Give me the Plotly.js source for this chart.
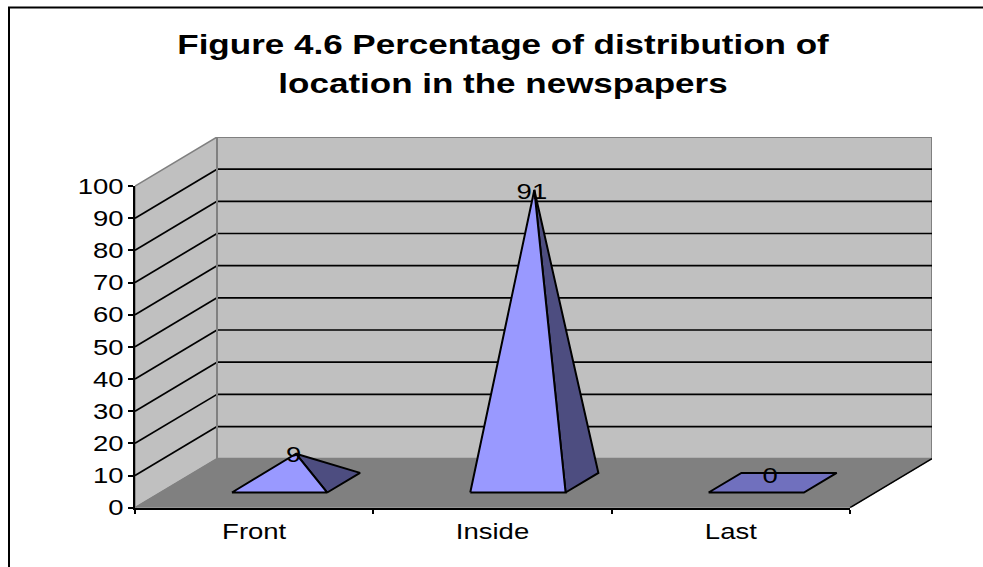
<!DOCTYPE html>
<html>
<head>
<meta charset="utf-8">
<script src="https://cdn.plot.ly/plotly-3.0.1.min.js"></script>
<style>html,body{margin:0;padding:0;background:#fff}#chart{width:983px;height:567px}</style>
</head>
<body>
<div id="chart"></div>
<script>
// ---- data ----
const categories = ["Front", "Inside", "Last"];
const values = [9, 91, 0];
const yTicks = [0, 10, 20, 30, 40, 50, 60, 70, 80, 90, 100];
const titleLines = ["Figure 4.6 Percentage of distribution of", "location in the newspapers"];

// ---- page geometry (px) ----
const W = 983, H = 567;
const frontLeft = 135, frontRight = 850, frontBase = 507.7, frontTop = 186;
const depthX = 82, depthY = 49;
const catPx = (frontRight - frontLeft) / categories.length;
const valPx = (frontBase - frontTop) / 100;
const depthCat = depthX / catPx, depthVal = depthY / valPx;
const FONT = '"Liberation Sans", Arial, sans-serif';
const TEXT_STRETCH = 1.25; // the reference's text is horizontally stretched

// oblique projection of (category position, depth 0..1, value) on the drawing axes
const px = (c, d) => c + d * depthCat;
const py = (v, d) => v + d * depthVal;
const poly = (pts, fill, lineColor, lineWidth) => ({
  type: 'scatter', mode: 'lines', xaxis: 'x', yaxis: 'y',
  x: pts.map(p => px(p[0], p[1])), y: pts.map(p => py(p[2], p[1])),
  fill: fill ? 'toself' : 'none', fillcolor: fill || undefined,
  line: {color: lineColor, width: lineWidth, simplify: false},
  hoverinfo: 'skip', showlegend: false
});

const L = -0.5, R = categories.length - 0.5;
const traces = [];
// walls and floor
traces.push(poly([[L,1,0],[R,1,0],[R,1,100],[L,1,100],[L,1,0]], '#C0C0C0', '#808080', 2));
traces.push(poly([[L,0,0],[L,1,0],[L,1,100],[L,0,100],[L,0,0]], '#C0C0C0', '#808080', 1.5));
traces.push(poly([[L,0,0],[R,0,0],[R,1,0],[L,1,0],[L,0,0]], '#808080', '#808080', 1));
traces.push(poly([[R,0,0],[R,1,0]], null, '#000000', 1.5));
// gridlines
yTicks.filter(v => v > 0 && v < 100).forEach(v => {
  traces.push(poly([[L,0,v],[L,1,v]], null, '#000000', 1.7));
  traces.push(poly([[L,1,v],[R,1,v]], null, '#000000', 1.7));
});
// repaint back-left edge over grid ends
traces.push(poly([[L,1,0],[L,1,100]], null, '#808080', 2));

// pyramids
const halfW = 0.2, d0 = 0.31, d1 = 0.71, dm = (d0 + d1) / 2;
categories.forEach((cat, i) => {
  const v = values[i];
  const a = i - halfW, b = i + halfW;
  if (v > 0) {
    traces.push(poly([[b,d0,0],[b,d1,0],[i,dm,v],[b,d0,0]], '#4D4D80', '#000000', 2));
    traces.push(poly([[a,d0,0],[b,d0,0],[i,dm,v],[a,d0,0]], '#9999FF', '#000000', 2));
  } else {
    traces.push(poly([[a,d0,0],[b,d0,0],[b,d1,0],[a,d1,0],[a,d0,0]], '#7070BE', '#000000', 2));
  }
});
// value labels
traces.push({
  type: 'scatter', mode: 'text', xaxis: 'x', yaxis: 'y',
  x: categories.map((c, i) => px(i, dm) - 0.01),
  y: values.map(v => py(v, dm) + (v === 0 ? 1.6 : -1)),
  text: values.map(String), textposition: 'middle center',
  textfont: {family: FONT, size: 22, color: '#000'},
  hoverinfo: 'skip', showlegend: false
});
// visible axes
traces.push({
  type: 'scatter', mode: 'none', xaxis: 'x2', yaxis: 'y2',
  x: categories.map((c, i) => i), y: values,
  hoverinfo: 'skip', showlegend: false
});

const layout = {
  width: W, height: H,
  margin: {l: 0, r: 0, t: 0, b: 0},
  paper_bgcolor: '#fff', plot_bgcolor: 'rgba(0,0,0,0)',
  showlegend: false,
  title: {
    text: titleLines.map(t => '<span style="font-size:28px">' + t + '</span>').join('<br>'),
    font: {family: FONT, size: 30, color: '#000', weight: 700},
    x: 503 / W, xanchor: 'center', y: 1 - 54 / H, yanchor: 'middle'
  },
  // drawing axes: span the whole projected box
  xaxis: {
    domain: [frontLeft / W, (frontRight + depthX) / W],
    range: [L, R + depthCat], visible: false, fixedrange: true
  },
  yaxis: {
    domain: [1 - frontBase / H, 1 - (frontTop - depthY) / H],
    range: [0, 100 + depthVal], visible: false, fixedrange: true
  },
  // visible axes: front edge of the box
  xaxis2: {
    anchor: 'y2', domain: [frontLeft / W, frontRight / W], range: [L, R],
    tickmode: 'array', tickvals: categories.map((c, i) => i), ticktext: categories,
    ticks: '', showgrid: false, zeroline: false,
    showline: true, linecolor: '#000', linewidth: 2,
    tickfont: {family: FONT, size: 22, color: '#000'},
    minor: {tickmode: 'array', tickvals: [-0.5, 0.5, 1.5, 2.5], ticks: 'outside', ticklen: 4, tickwidth: 1.5, tickcolor: '#000', showgrid: false},
    ticklabelstandoff: 3, fixedrange: true
  },
  yaxis2: {
    anchor: 'x2', domain: [1 - frontBase / H, 1 - frontTop / H], range: [0, 100],
    tickmode: 'array', tickvals: yTicks, ticktext: yTicks.map(String),
    ticks: 'outside', ticklen: 5, tickwidth: 1.5, tickcolor: '#000',
    showgrid: false, zeroline: false,
    showline: true, linecolor: '#000', linewidth: 2,
    tickfont: {family: FONT, size: 22, color: '#000'},
    fixedrange: true
  },
  // chart frame: only left and top edges are inside the picture
  shapes: [
    {type: 'line', xref: 'paper', yref: 'paper', x0: 9 / W, x1: 9 / W, y0: 0, y1: 1 - 7.5 / H, line: {color: '#000', width: 2}},
    {type: 'line', xref: 'paper', yref: 'paper', x0: 8 / W, x1: 1, y0: 1 - 7.5 / H, y1: 1 - 7.5 / H, line: {color: '#000', width: 2}}
  ]
};
Plotly.newPlot('chart', traces, layout, {displayModeBar: false, responsive: false}).then(gd => {
  // widen the glyphs of every text by the reference's stretch
  gd.querySelectorAll('.x2tick text, .y2tick text, .textpoint text, .gtitle tspan.line').forEach(t => {
    t.setAttribute('lengthAdjust', 'spacingAndGlyphs');
    t.setAttribute('textLength', t.getComputedTextLength() * TEXT_STRETCH);
  });
});
</script>
</body>
</html>
